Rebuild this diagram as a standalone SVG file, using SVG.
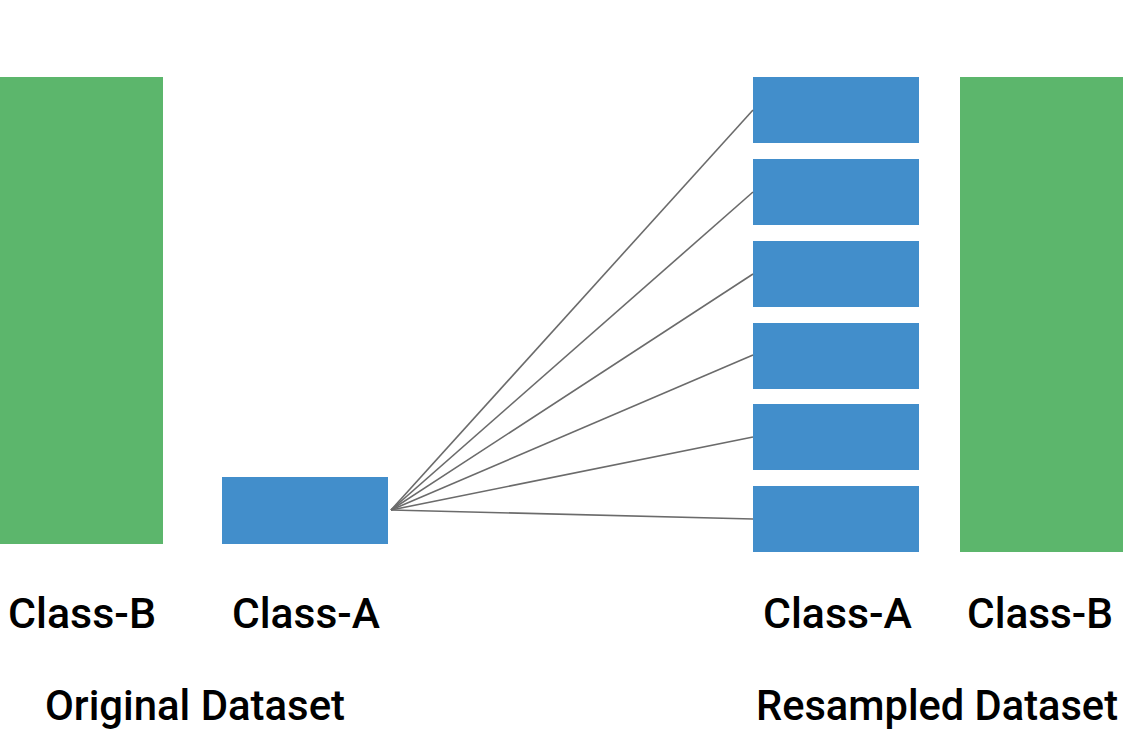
<svg xmlns="http://www.w3.org/2000/svg" width="1123" height="732" viewBox="0 0 1123 732">
  <style>
    .green { fill: #5cb66c; }
    .blue { fill: #428ecb; }
    .lbl { font-family: Roboto, "Liberation Sans", Arial, sans-serif; font-weight: 500; font-size: 42px; fill: #000; }
    .link { stroke: #6b6b6b; stroke-width: 1.6; fill: none; }
  </style>
  <rect width="1123" height="732" fill="#fff"/>

  <!-- Original dataset -->
  <g id="orig-class-b">
    <rect class="green" x="0" y="77" width="163" height="467"/>
    <text class="lbl" x="8" y="628" textLength="148" lengthAdjust="spacingAndGlyphs">Class-B</text>
  </g>
  <g id="orig-class-a">
    <rect class="blue" x="222" y="477" width="166" height="67"/>
    <text class="lbl" x="232" y="628" textLength="148" lengthAdjust="spacingAndGlyphs">Class-A</text>
  </g>
  <text id="orig-title" class="lbl" x="45" y="720" textLength="300" lengthAdjust="spacingAndGlyphs">Original Dataset</text>

  <!-- Resampled dataset -->
  <g id="res-class-a">
    <rect class="blue" x="753" y="77" width="166" height="66"/>
    <rect class="blue" x="753" y="159" width="166" height="66"/>
    <rect class="blue" x="753" y="241" width="166" height="66"/>
    <rect class="blue" x="753" y="323" width="166" height="66"/>
    <rect class="blue" x="753" y="404" width="166" height="66"/>
    <rect class="blue" x="753" y="486" width="166" height="66"/>
    <text class="lbl" x="763" y="628" textLength="149" lengthAdjust="spacingAndGlyphs">Class-A</text>
  </g>
  <g id="res-class-b">
    <rect class="green" x="960" y="77" width="163" height="475"/>
    <text class="lbl" x="967" y="628" textLength="146" lengthAdjust="spacingAndGlyphs">Class-B</text>
  </g>
  <text id="res-title" class="lbl" x="756" y="720" textLength="362" lengthAdjust="spacingAndGlyphs">Resampled Dataset</text>

  <!-- Copy connectors -->
  <g id="connectors">
    <line class="link" x1="391" y1="510" x2="753" y2="110"/>
    <line class="link" x1="391" y1="510" x2="753" y2="192"/>
    <line class="link" x1="391" y1="510" x2="753" y2="274"/>
    <line class="link" x1="391" y1="510" x2="753" y2="355"/>
    <line class="link" x1="391" y1="510" x2="753" y2="437"/>
    <line class="link" x1="391" y1="510" x2="753" y2="519"/>
  </g>
</svg>
